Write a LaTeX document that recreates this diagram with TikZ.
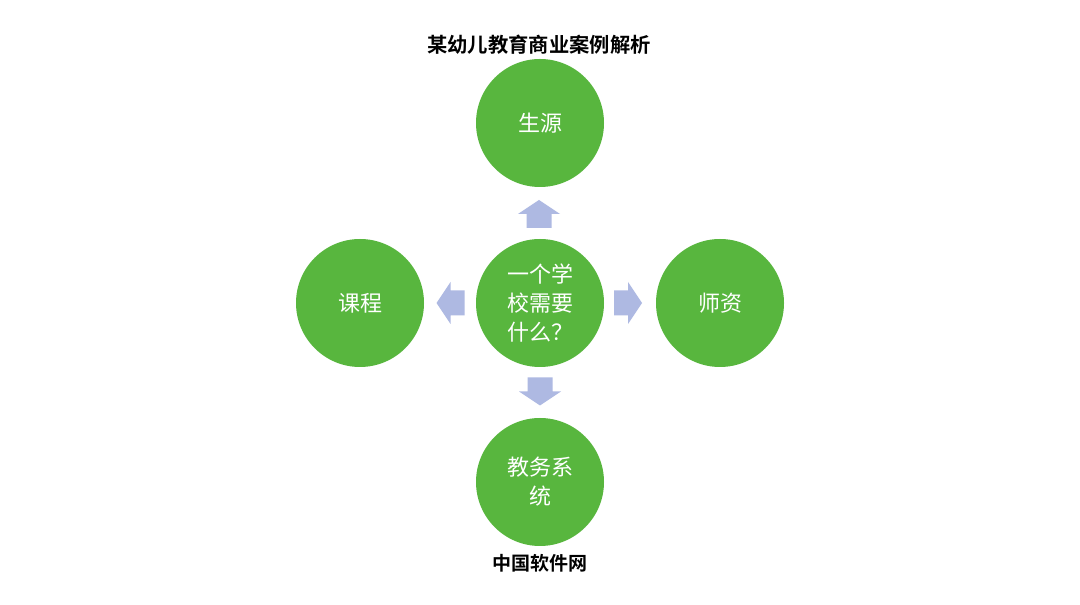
\documentclass[tikz,border=0pt]{standalone}
\usepackage{fontspec}
\newfontfamily\cjk{Noto Sans CJK SC}
\newfontfamily\cjkb{Noto Sans CJK SC Bold}
\definecolor{cgreen}{HTML}{58B63E}
\definecolor{carrow}{HTML}{AEB9E2}
\begin{document}
\begin{tikzpicture}[x=1pt,y=1pt,
  circ/.style={circle,fill=cgreen,draw=none,minimum size=128pt,inner sep=0pt,
    text=white,align=center,font=\cjk\fontsize{22}{29}\selectfont},
  lbl/.style={font=\cjkb\fontsize{19}{22}\selectfont,text=black,inner sep=0pt},
  blockarrow/.pic={\fill[carrow] (-14,-12.5) -- (0,-12.5) -- (0,-21) -- (14,0) -- (0,21) -- (0,12.5) -- (-14,12.5) -- cycle;}]
\useasboundingbox (0,0) rectangle (1080,605);
\fill[white] (0,0) rectangle (1080,605);
\node[lbl,font=\cjkb\fontsize{20.3}{22}\selectfont] (title) at (539,560) {某幼儿教育商业案例解析};
\node[circ] (top) at (540,482) {生源};
\node[circ] (center) at (540,302) {一个学\\校需要\\什么？};
\node[circ] (left) at (360,302) {课程};
\node[circ] (right) at (720,302) {师资};
\node[circ] (bottom) at (540,123) {教务系\\统};
\node[lbl] (footer) at (540,42) {中国软件网};
\pic[rotate=90] at (539,391) {blockarrow};
\pic[rotate=180] at (450.5,302) {blockarrow};
\pic at (628,302) {blockarrow};
\pic[rotate=-90] at (540,213.5) {blockarrow};
\end{tikzpicture}
\end{document}
